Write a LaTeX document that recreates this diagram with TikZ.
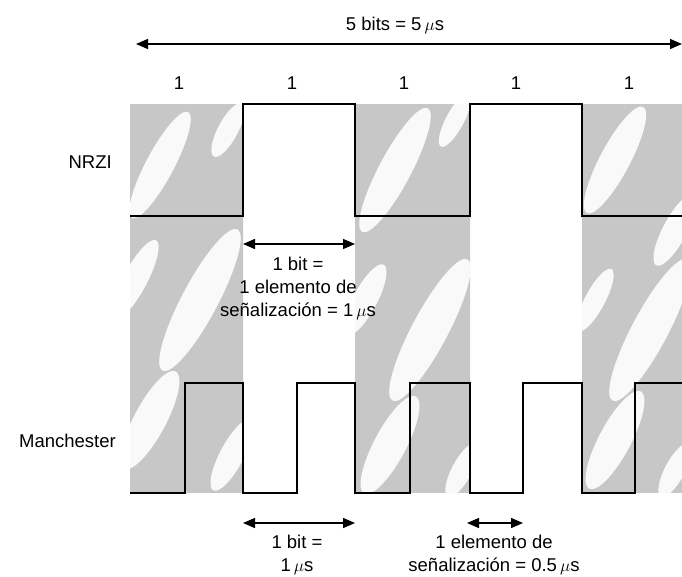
\documentclass[tikz,border=0pt]{standalone}
\usepackage{fontspec}
\setmainfont{Liberation Sans}
\usetikzlibrary{arrows.meta}
\begin{document}
\begin{tikzpicture}[x=1pt,y=-1pt,
  txt/.style={font=\fontsize{18.5}{23}\selectfont, inner sep=0pt, align=center},
  sig/.style={line width=2.8pt, line join=miter},
  dimarrow/.style={line width=1.4pt, {Triangle[length=12pt,width=10pt]}-{Triangle[length=12pt,width=10pt]}},
  shadecol/.style={fill=black!22, draw=none},
  streak/.style={fill=white, draw=none, opacity=0.9}]
\useasboundingbox (0,0) rectangle (682,576);
% textured background columns
\begin{scope}
\clip (130,104) rectangle (243,493) (355,104) rectangle (470,493) (582,104) rectangle (682,493);
\fill[shadecol] (130,104) rectangle (682,493);
\foreach \cx/\cy/\a/\b in {160/165/60/14, 228/130/30/10, 200/300/80/18, 135/280/45/12, 150/420/55/16, 232/455/40/12,
  395/170/70/16, 455/120/30/9, 430/330/80/18, 365/300/40/12, 390/445/55/16, 462/470/30/10,
  615/160/60/15, 675/230/40/12, 650/330/80/18, 595/300/35/10, 615/440/55/16, 675/470/30/10}
  \fill[streak, rotate around={62:(\cx,\cy)}] (\cx,\cy) ellipse [x radius=\a, y radius=\b];
\end{scope}
% top dimension
\coordinate (tl) at (136,44);
\coordinate (tr) at (682,44);
\draw[dimarrow] (tl) -- (tr);
\node[txt] (title) at (395,25) {5 bits = 5\,$\mu$s};
% bit labels
\node[txt] (b1) at (179,83) {1};
\node[txt] (b2) at (292,83) {1};
\node[txt] (b3) at (404,83) {1};
\node[txt] (b4) at (516,83) {1};
\node[txt] (b5) at (629,83) {1};
% signal labels
\node[txt, anchor=east] (nrzi) at (112,162) {NRZI};
\node[txt, anchor=east] (man) at (116,441) {Manchester};
% NRZI trace
\draw[sig] (130,216) -- (243,216) -- (243,104) -- (355,104) -- (355,216) -- (470,216) -- (470,104) -- (582,104) -- (582,216) -- (682,216);
% Manchester trace
\draw[sig] (130,493) -- (185,493) -- (185,383) -- (243,383) -- (243,493) -- (297,493) -- (297,383) -- (355,383) -- (355,493) -- (410,493) -- (410,383) -- (470,383) -- (470,493) -- (523,493) -- (523,383) -- (582,383) -- (582,493) -- (635,493) -- (635,383) -- (682,383);
% middle dimension
\coordinate (m1) at (243,244);
\coordinate (m2) at (355,244);
\draw[dimarrow] (m1) -- (m2);
\node[txt] (mtext) at (298,288) {1 bit =\\1 elemento de\\señalización = 1\,$\mu$s};
% bottom dimensions
\coordinate (l1) at (243,523);
\coordinate (l2) at (355,523);
\draw[dimarrow] (l1) -- (l2);
\node[txt] (ltext) at (297,555) {1 bit =\\1\,$\mu$s};
\coordinate (r1) at (467,523);
\coordinate (r2) at (523,523);
\draw[dimarrow] (r1) -- (r2);
\node[txt] (rtext) at (494,555) {1 elemento de\\señalización = 0.5\,$\mu$s};
\end{tikzpicture}
\end{document}
